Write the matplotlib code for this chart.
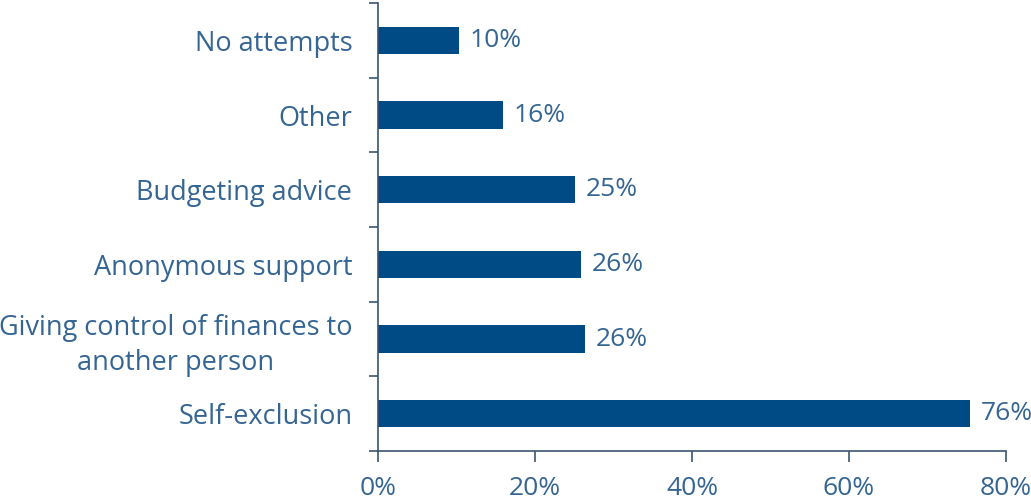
'''Attempts to control gambling: horizontal bar chart.'''

import numpy as np
import matplotlib.pyplot as plt
from matplotlib.ticker import FixedLocator

categories = ['No attempts', 'Other', 'Budgeting advice', 'Anonymous support',
              'Giving control of finances to\nanother person', 'Self-exclusion']
values = [10.3, 15.9, 25.1, 25.9, 26.4, 75.4]
value_labels = ['10%', '16%', '25%', '26%', '26%', '76%']
xticks = [0, 20, 40, 60, 80]
xtick_labels = ['0%', '20%', '40%', '60%', '80%']

bar_color = '#004a86'
text_color = '#356593'
axis_color = '#3a5570'

plt.rcParams['font.family'] = ['Open Sans', 'DejaVu Sans']

fig = plt.figure(figsize=(10.31, 5), dpi=100)
ax = fig.add_axes([0.3666, 0.098, 0.6092, 0.896])

ypos = np.arange(len(categories))
ax.barh(ypos, values, height=0.37, color=bar_color)
for y, v, lab in zip(ypos, values, value_labels):
    ax.annotate(lab, (v, y), xytext=(7.5, 0), textcoords='offset points',
                ha='left', va='center', fontsize=19, color=text_color)

ax.set_ylim(len(categories) - 0.5, -0.5)
ax.set_xlim(0, 80)
ax.set_yticks(ypos)
ax.set_yticklabels(categories, multialignment='center', linespacing=1.3,
                   fontsize=19.5)
ax.yaxis.set_minor_locator(FixedLocator(np.arange(len(categories) + 1) - 0.5))
ax.set_xticks(xticks)
ax.set_xticklabels(xtick_labels)

ax.tick_params(axis='y', which='major', length=0, pad=18.5,
               labelcolor=text_color)
ax.tick_params(axis='y', which='minor', length=6.5, width=1.2,
               color=axis_color)
ax.tick_params(axis='x', length=8, width=1.2, color=axis_color, pad=10,
               labelsize=19, labelcolor=text_color)

for side in ['top', 'right']:
    ax.spines[side].set_visible(False)
for side in ['left', 'bottom']:
    ax.spines[side].set_color(axis_color)
    ax.spines[side].set_linewidth(1.2)

fig.savefig('out.png', dpi=100)
